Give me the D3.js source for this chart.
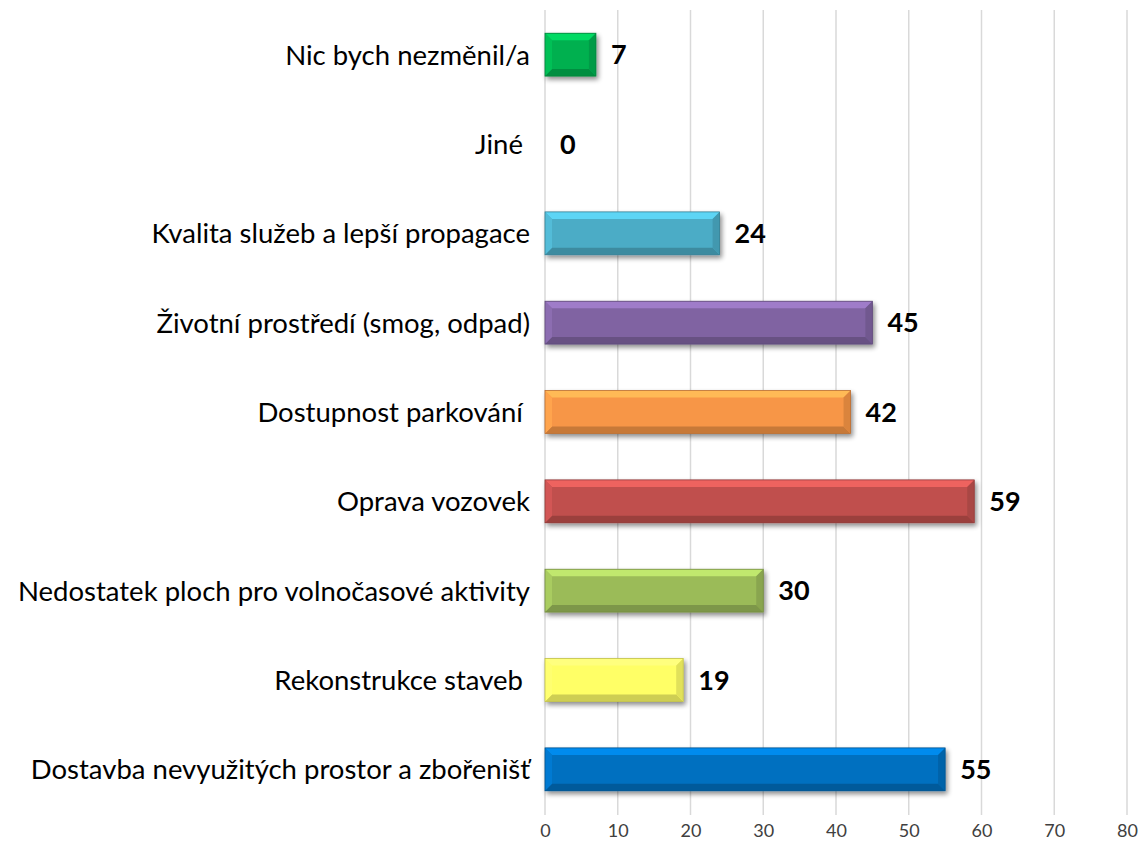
<!DOCTYPE html>
<html>
<head>
<meta charset="utf-8">
<script src="https://cdn.jsdelivr.net/npm/d3@7"></script>
<style>
  body { margin: 0; background: #fff; }
  text { font-family: Lato, "Open Sans", sans-serif; white-space: pre; }
</style>
</head>
<body>
<script>
// categories from top to bottom
const categories = ["Nic bych nezměnil/a", "Jiné ", "Kvalita služeb a lepší propagace",
  "Životní prostředí (smog, odpad)", "Dostupnost parkování ", "Oprava vozovek",
  "Nedostatek ploch pro volnočasové aktivity", "Rekonstrukce staveb ",
  "Dostavba nevyužitých prostor a zbořenišť"]
const values = [7, 0, 24, 45, 42, 59, 30, 19, 55]
const colors = ["#00b050", "#888888", "#4bacc6", "#8064a2", "#f79646", "#c0504d", "#9bbb59", "#ffff66", "#0070c0"]
const ticks = [0, 10, 20, 30, 40, 50, 60, 70, 80]

const width = 1145, height = 856
const svg = d3.select("body").append("svg")
  .attr("width", width).attr("height", height)

const x = d3.scaleLinear().domain([0, 80]).range([545, 1127])
const y = d3.scaleBand().domain(categories).range([10, 814]).paddingInner(0.52).paddingOuter(0.26)

// shadow filter
const defs = svg.append("defs")
const f = defs.append("filter").attr("id", "sh").attr("x", "-10%").attr("y", "-30%").attr("width", "130%").attr("height", "170%")
f.append("feGaussianBlur").attr("in", "SourceAlpha").attr("stdDeviation", 2.5)
f.append("feOffset").attr("dx", 2).attr("dy", 3).attr("result", "b")
f.append("feComponentTransfer").append("feFuncA").attr("type", "linear").attr("slope", 0.45)
const fm = f.append("feMerge")
fm.append("feMergeNode")
fm.append("feMergeNode").attr("in", "SourceGraphic")

// gridlines
svg.append("g").selectAll("line").data(ticks).enter().append("line")
  .attr("x1", d => x(d)).attr("x2", d => x(d))
  .attr("y1", 10).attr("y2", 815)
  .attr("stroke", "#d9d9d9").attr("stroke-width", 1.5)

// x axis labels
const ax = svg.append("g").attr("transform", "translate(0,815)")
  .call(d3.axisBottom(x).tickValues(ticks).tickSize(0).tickPadding(9))
ax.select(".domain").remove()
ax.selectAll("text").attr("font-size", 18).attr("fill", "#404040")
  .style("font-family", "Lato, 'Open Sans', sans-serif")

// bars with bevel, zero values are skipped
const bev = 7
const idx = d3.range(values.length).filter(i => values[i] > 0)
svg.append("g").selectAll("g").data(idx).enter().append("g")
  .attr("filter", "url(#sh)")
  .each(function (i) {
    const g = d3.select(this)
    const x0 = x(0), x1 = x(values[i]), y0 = y(categories[i]), y1 = y0 + y.bandwidth()
    const c = d3.color(colors[i])
    g.append("rect").attr("x", x0).attr("y", y0).attr("width", x1 - x0).attr("height", y1 - y0)
      .attr("fill", c.formatHex())
    const b = Math.min(bev, (x1 - x0) / 2)
    // top bevel
    g.append("polygon").attr("points", [[x0, y0], [x1, y0], [x1 - b, y0 + b], [x0 + b, y0 + b]].join(" "))
      .attr("fill", c.brighter(0.6).formatHex())
    // bottom bevel
    g.append("polygon").attr("points", [[x0, y1], [x1, y1], [x1 - b, y1 - b], [x0 + b, y1 - b]].join(" "))
      .attr("fill", c.darker(0.6).formatHex())
    // left bevel
    g.append("polygon").attr("points", [[x0, y0], [x0 + b, y0 + b], [x0 + b, y1 - b], [x0, y1]].join(" "))
      .attr("fill", c.brighter(0.25).formatHex())
    // right bevel
    g.append("polygon").attr("points", [[x1, y0], [x1 - b, y0 + b], [x1 - b, y1 - b], [x1, y1]].join(" "))
      .attr("fill", c.darker(0.35).formatHex())
    g.append("rect").attr("x", x0).attr("y", y0).attr("width", x1 - x0).attr("height", y1 - y0)
      .attr("fill", "none").attr("stroke", c.darker(0.8).formatHex()).attr("stroke-width", 0.8)
  })

// value labels
svg.append("g").selectAll("text").data(values).enter().append("text")
  .attr("x", d => x(d) + 15)
  .attr("y", (d, i) => y(categories[i]) + y.bandwidth() / 2)
  .attr("dy", "0.36em")
  .attr("font-size", 27).attr("font-weight", "bold").attr("fill", "#000")
  .text(d => d)

// category labels
svg.append("g").selectAll("text").data(categories).enter().append("text")
  .attr("x", 530)
  .attr("y", d => y(d) + y.bandwidth() / 2)
  .attr("dy", "0.36em")
  .attr("text-anchor", "end")
  .attr("font-size", 27.5).attr("fill", "#000")
  .text(d => d)
</script>
</body>
</html>
